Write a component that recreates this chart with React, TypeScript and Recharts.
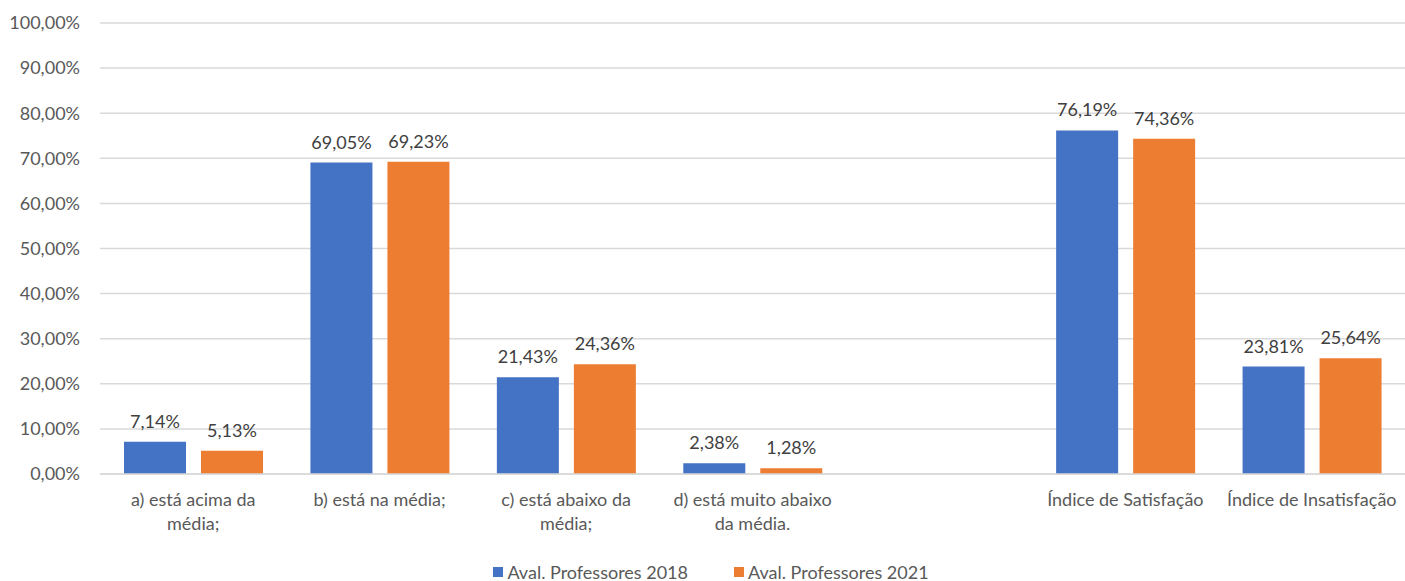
import React from 'react';
import { BarChart, Bar, XAxis, YAxis, CartesianGrid, Legend, LabelList } from 'recharts';

const categories = [
  'a) está acima da média;',
  'b) está na média;',
  'c) está abaixo da média;',
  'd) está muito abaixo da média.',
  '',
  'Índice de Satisfação',
  'Índice de Insatisfação',
];
const tickLines: string[][] = [
  ['a) está acima da', 'média;'],
  ['b) está na média;'],
  ['c) está abaixo da', 'média;'],
  ['d) está muito abaixo', 'da média.'],
  [],
  ['Índice de Satisfação'],
  ['Índice de Insatisfação'],
];
const series2018: (number | null)[] = [7.14, 69.05, 21.43, 2.38, null, 76.19, 23.81];
const series2021: (number | null)[] = [5.13, 69.23, 24.36, 1.28, null, 74.36, 25.64];
const yTicks = [0, 10, 20, 30, 40, 50, 60, 70, 80, 90, 100];
const seriesNames = ['Aval. Professores 2018', 'Aval. Professores 2021'];
const colors = ['#4472C4', '#ED7D31'];

const data = categories.map((c, i) => ({
  name: c,
  idx: i,
  s2018: series2018[i],
  s2021: series2021[i],
}));

const fmt = (v: any) =>
  v === null || v === undefined ? '' : `${Number(v).toFixed(2).replace('.', ',')}%`;

const FONT = 'Lato, "Noto Sans", sans-serif';
const TEXT = '#595959';
const FS = 18;

const XTick = (props: any) => {
  const { x, y, payload } = props;
  const lines = tickLines[payload.index] || [];
  return (
    <g>
      {lines.map((l, i) => (
        <text
          key={i}
          x={x}
          y={y + 24 + i * 24}
          textAnchor="middle"
          fill={TEXT}
          fontSize={FS}
          fontFamily={FONT}
        >
          {l}
        </text>
      ))}
    </g>
  );
};

const LegendContent = () => (
  <div
    style={{
      display: 'flex',
      justifyContent: 'center',
      alignItems: 'center',
      gap: 46,
      height: 24,
      paddingTop: 6,
      boxSizing: 'border-box',
      fontFamily: FONT,
      fontSize: FS,
      color: TEXT,
    }}
  >
    {seriesNames.map((n, i) => (
      <div key={n} style={{ display: 'flex', alignItems: 'center' }}>
        <span
          style={{
            display: 'inline-block',
            width: 10,
            height: 10,
            background: colors[i],
            marginRight: 4,
          }}
        />
        <span>{n}</span>
      </div>
    ))}
  </div>
);

export default function App() {
  return (
    <div style={{ position: 'absolute', left: 0, top: 0, width: 1405, height: 581, background: '#fff' }}>
      <BarChart
        width={1405}
        height={581}
        data={data}
        margin={{ top: 23, right: 0, left: 0, bottom: 0 }}
        barSize={62}
        barGap={15}
      >
        <CartesianGrid vertical={false} stroke="#d9d9d9" strokeWidth={1.5} />
        <XAxis
          dataKey="name"
          height={83}
          axisLine={{ stroke: '#d9d9d9', strokeWidth: 1.5 }}
          tickLine={false}
          tick={<XTick />}
          interval={0}
        />
        <YAxis
          width={100}
          domain={[0, 100]}
          ticks={yTicks}
          axisLine={false}
          tickLine={false}
          tickMargin={14}
          tickFormatter={fmt}
          tick={{ fill: TEXT, fontSize: FS, fontFamily: FONT }}
        />
        <Legend
          verticalAlign="bottom"
          height={24}
          content={<LegendContent />}
          wrapperStyle={{ left: 411, width: 600, bottom: 0 }}
        />
        <Bar dataKey="s2018" name={seriesNames[0]} fill={colors[0]} isAnimationActive={false}>
          <LabelList
            dataKey="s2018"
            position="top"
            offset={14}
            formatter={fmt}
            style={{ fill: '#404040', fontSize: FS, fontFamily: FONT }}
          />
        </Bar>
        <Bar dataKey="s2021" name={seriesNames[1]} fill={colors[1]} isAnimationActive={false}>
          <LabelList
            dataKey="s2021"
            position="top"
            offset={14}
            formatter={fmt}
            style={{ fill: '#404040', fontSize: FS, fontFamily: FONT }}
          />
        </Bar>
      </BarChart>
    </div>
  );
}
